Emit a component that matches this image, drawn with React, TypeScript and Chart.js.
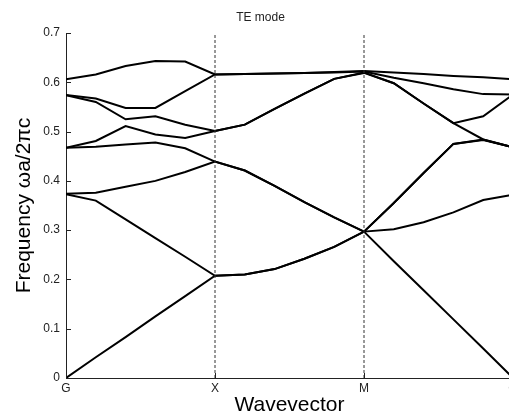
import React, { useEffect, useRef } from "react";
import { Chart, registerables } from "chart.js";

Chart.register(...registerables);

// k-path sample positions (G=0, X=1, M=2, G=3)
const kPoints = [0, 0.2, 0.4, 0.6, 0.8, 1, 1.2, 1.4, 1.6, 1.8, 2, 2.2, 2.4, 2.6, 2.8, 3];
const kTickValues = [0, 1, 2, 3];
const kTickLabels = ["G", "X", "M", "G"];
const symmetryLines = [1, 2];
const yTickValues = [0, 0.1, 0.2, 0.3, 0.4, 0.5, 0.6, 0.7];

// Band frequencies (ωa/2πc), sorted per k-point
const band1 = [0, 0.042, 0.083, 0.125, 0.166, 0.2075, 0.21, 0.221, 0.242, 0.266, 0.297, 0.237, 0.178, 0.119, 0.06, 0];
const band2 = [0.373, 0.36, 0.322, 0.284, 0.246, 0.2075, 0.21, 0.221, 0.242, 0.266, 0.297, 0.302, 0.316, 0.336, 0.361, 0.372];
const band3 = [0.374, 0.376, 0.388, 0.4, 0.418, 0.439, 0.421, 0.39, 0.357, 0.326, 0.297, 0.355, 0.416, 0.475, 0.483, 0.468];
const band4 = [0.467, 0.469, 0.474, 0.478, 0.466, 0.439, 0.421, 0.39, 0.357, 0.326, 0.297, 0.355, 0.416, 0.475, 0.484, 0.468];
const band5 = [0.467, 0.481, 0.511, 0.494, 0.487, 0.501, 0.514, 0.546, 0.577, 0.607, 0.619, 0.598, 0.557, 0.517, 0.484, 0.468];
const band6 = [0.574, 0.56, 0.525, 0.531, 0.514, 0.501, 0.514, 0.546, 0.577, 0.607, 0.62, 0.598, 0.557, 0.517, 0.531, 0.575];
const band7 = [0.574, 0.567, 0.548, 0.548, 0.582, 0.616, 0.617, 0.618, 0.619, 0.62, 0.622, 0.609, 0.598, 0.586, 0.576, 0.575];
const band8 = [0.606, 0.616, 0.633, 0.643, 0.642, 0.616, 0.617, 0.618, 0.619, 0.621, 0.623, 0.62, 0.617, 0.613, 0.61, 0.606];

const bands = [band1, band2, band3, band4, band5, band6, band7, band8];

const FONT = "'Liberation Sans', Arial, Helvetica, sans-serif";
const INK = "#222";

const inwardTicks = {
  id: "inwardTicks",
  afterDraw(chart: any) {
    const { ctx, chartArea, scales } = chart;
    const x = scales.x;
    const y = scales.y;
    ctx.save();
    ctx.strokeStyle = INK;
    ctx.lineWidth = 1;
    ctx.beginPath();
    y.ticks.forEach((t: any) => {
      const py = Math.round(y.getPixelForValue(t.value)) + 0.5;
      ctx.moveTo(chartArea.left, py);
      ctx.lineTo(chartArea.left + 5, py);
    });
    x.ticks.forEach((t: any) => {
      const px = Math.round(x.getPixelForValue(t.value)) + 0.5;
      ctx.moveTo(px, chartArea.bottom);
      ctx.lineTo(px, chartArea.bottom - 5);
    });
    ctx.stroke();
    ctx.restore();
  },
};

export default function App() {
  const ref = useRef<HTMLCanvasElement | null>(null);

  useEffect(() => {
    if (!ref.current) return;
    const dashed = symmetryLines.map((k) => ({
      data: [
        { x: k, y: yTickValues[0] },
        { x: k, y: yTickValues[yTickValues.length - 1] },
      ],
      borderColor: "#333",
      borderWidth: 1,
      borderDash: [3, 2],
      pointRadius: 0,
      fill: false,
    }));
    const bandSets = bands.map((b) => ({
      data: kPoints.map((k, i) => ({ x: k, y: b[i] })),
      borderColor: "#000",
      borderWidth: 2,
      pointRadius: 0,
      fill: false,
      tension: 0,
    }));
    const chart = new Chart(ref.current, {
      type: "line",
      data: { datasets: [...dashed, ...bandSets] as any },
      options: {
        animation: false,
        responsive: false,
        layout: { padding: { left: 0, right: 10, top: 0, bottom: 0 } },
        plugins: {
          legend: { display: false },
          tooltip: { enabled: false },
          title: {
            display: true,
            text: "TE mode",
            color: INK,
            font: { family: FONT, size: 12, weight: "normal" },
            padding: { top: 2, bottom: 8.6 },
          },
        },
        scales: {
          x: {
            type: "linear",
            min: kTickValues[0],
            max: kTickValues[kTickValues.length - 1],
            afterBuildTicks: (scale: any) => {
              scale.ticks = kTickValues.map((v) => ({ value: v }));
            },
            afterFit: (scale: any) => {
              scale.height = 42;
            },
            ticks: {
              autoSkip: false,
              maxRotation: 0,
              padding: 3,
              color: INK,
              font: { family: FONT, size: 12 },
              callback: (v: any) => kTickLabels[kTickValues.indexOf(Number(v))] ?? "",
            },
            grid: { display: true, drawOnChartArea: false, drawTicks: false },
            border: { display: true, color: INK, width: 1 },
            title: {
              display: true,
              text: "Wavevector",
              color: "#000",
              font: { family: FONT, size: 21 },
              padding: { top: 0, bottom: 2 },
            },
          },
          y: {
            type: "linear",
            min: yTickValues[0],
            max: yTickValues[yTickValues.length - 1],
            afterBuildTicks: (scale: any) => {
              scale.ticks = yTickValues.map((v) => ({ value: v }));
            },
            afterFit: (scale: any) => {
              scale.width = 58;
            },
            ticks: {
              autoSkip: false,
              padding: 6,
              color: INK,
              font: { family: FONT, size: 12 },
              callback: (v: any) => String(Math.round(Number(v) * 10) / 10),
            },
            grid: { display: true, drawOnChartArea: false, drawTicks: false },
            border: { display: true, color: INK, width: 1 },
            title: {
              display: true,
              text: "Frequency ωa/2πc",
              color: "#000",
              font: { family: FONT, size: 21 },
              padding: { top: 4, bottom: 0 },
            },
          },
        },
      },
      plugins: [inwardTicks],
    } as any);
    return () => chart.destroy();
  }, []);

  return (
    <div style={{ position: "fixed", left: 8, top: 8, width: 501, height: 412, overflow: "hidden" }}>
      <canvas ref={ref} width={515} height={412} style={{ display: "block" }} />
    </div>
  );
}
